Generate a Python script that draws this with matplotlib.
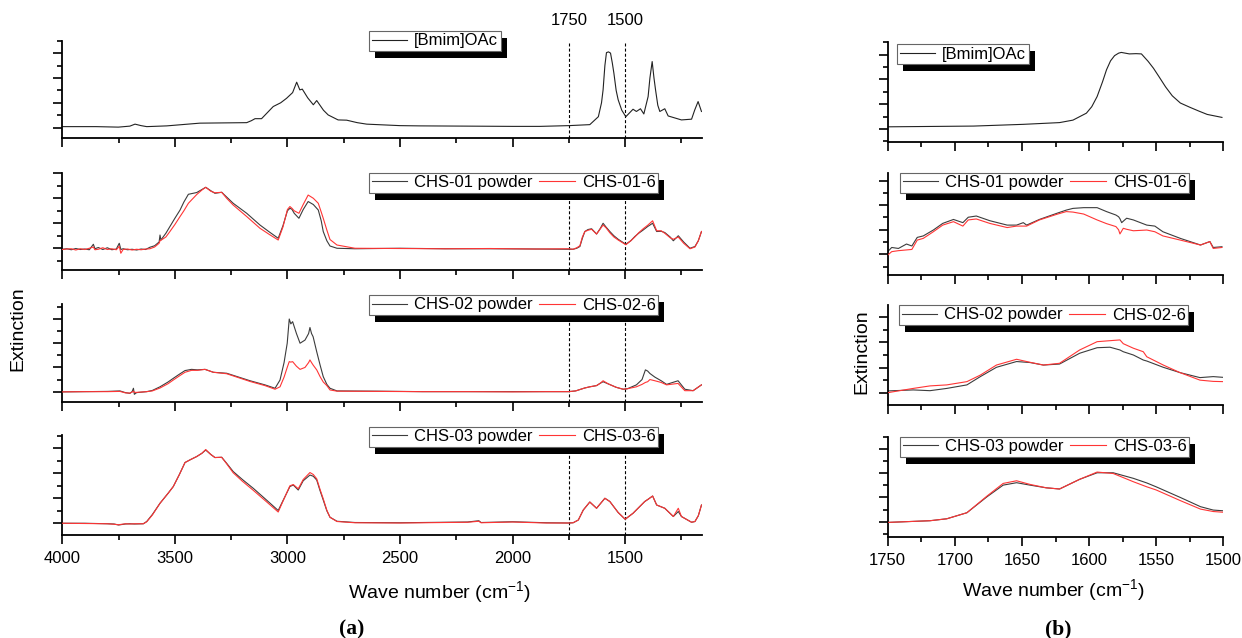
import matplotlib
matplotlib.use('Agg')
import matplotlib.pyplot as plt
from matplotlib.ticker import MultipleLocator, NullFormatter, FormatStrFormatter
from matplotlib.patches import Rectangle
from matplotlib.transforms import IdentityTransform

plt.rcParams['font.family'] = ['Liberation Sans', 'DejaVu Sans']
plt.rcParams['mathtext.fontset'] = 'custom'
plt.rcParams['mathtext.rm'] = 'Liberation Sans'
plt.rcParams['mathtext.it'] = 'Liberation Sans:italic'

# ---------------- data : panel (a), full range ----------------
bmim_wn_a = [4000, 3850, 3751, 3700, 3677, 3650, 3625, 3536, 3389, 3181, 3160, 3144, 3115, 3063, 3030,
             3004, 2977, 2959, 2945, 2934, 2910, 2885, 2870, 2840, 2819, 2775, 2737, 2690, 2648, 2500,
             2412, 2200, 2000, 1879, 1751, 1657, 1619, 1605, 1598, 1590, 1583, 1574, 1565, 1557, 1550,
             1540, 1531, 1515, 1497, 1465, 1450, 1432, 1417, 1398, 1390, 1380, 1372, 1365, 1355, 1346,
             1324, 1309, 1250, 1205, 1191, 1176, 1161]
bmim_a = [0.04, 0.04, 0.02, 0.06, 0.14, 0.08, 0.04, 0.07, 0.18, 0.20, 0.28, 0.36, 0.36, 0.85, 1.00,
          1.18, 1.41, 1.83, 1.52, 1.55, 1.20, 0.92, 1.09, 0.70, 0.51, 0.31, 0.30, 0.20, 0.14, 0.08,
          0.07, 0.06, 0.05, 0.05, 0.08, 0.12, 0.44, 1.00, 1.52, 2.50, 3.02, 3.05, 3.00, 2.60, 2.19,
          1.50, 1.12, 0.70, 0.44, 0.74, 0.65, 0.76, 0.55, 1.25, 2.00, 2.66, 2.00, 1.52, 0.90, 0.65,
          0.76, 0.47, 0.31, 0.34, 0.71, 1.05, 0.65]

chs01_wn_a = [4000, 3980, 3960, 3940, 3920, 3900, 3880, 3862, 3855, 3840, 3820, 3800, 3780, 3760, 3747,
              3740, 3730, 3710, 3690, 3670, 3650, 3630, 3611, 3590, 3570, 3566, 3562, 3540, 3522, 3500,
              3477, 3460, 3440, 3403, 3380, 3363, 3340, 3322, 3292, 3270, 3241, 3181, 3122, 3080, 3041,
              3020, 3000, 2989, 2980, 2970, 2949, 2930, 2908, 2885, 2863, 2850, 2841, 2825, 2811, 2780,
              2700, 2500, 2300, 2100, 1900, 1751, 1731, 1715, 1701, 1690, 1679, 1665, 1649, 1627, 1610,
              1598, 1585, 1568, 1550, 1531, 1497, 1475, 1457, 1440, 1420, 1400, 1378, 1360, 1340, 1324,
              1300, 1286, 1264, 1240, 1212, 1190, 1175, 1161]
chs01_powder_a = [-0.04, -0.02, -0.06, -0.01, -0.05, -0.03, -0.06, 0.16, -0.02, 0.03, -0.05, 0.02, -0.06, -0.03, 0.20,
                  -0.05, -0.02, -0.06, -0.04, -0.07, -0.03, -0.05, 0.04, 0.10, 0.25, 0.53, 0.33, 0.60, 0.87, 1.20,
                  1.53, 1.85, 2.16, 2.23, 2.35, 2.44, 2.30, 2.20, 2.24, 2.05, 1.80, 1.40, 0.93, 0.65, 0.40,
                  0.90, 1.50, 1.60, 1.56, 1.40, 1.20, 1.55, 1.87, 1.75, 1.53, 1.10, 0.67, 0.30, 0.09, 0.00,
                  -0.02, 0.00, -0.02, -0.02, -0.03, -0.04, -0.04, 0.00, 0.07, 0.40, 0.67, 0.75, 0.78, 0.57, 0.80,
                  1.00, 0.85, 0.67, 0.50, 0.36, 0.16, 0.30, 0.47, 0.60, 0.73, 0.87, 1.00, 0.67, 0.68, 0.63,
                  0.45, 0.30, 0.50, 0.25, 0.00, 0.07, 0.30, 0.67]
chs01_6_a = [-0.05, -0.03, -0.02, -0.07, -0.02, -0.05, 0.00, 0.05, -0.06, -0.04, 0.02, -0.05, -0.02, -0.06, 0.08,
             -0.20, -0.05, -0.03, -0.07, -0.04, -0.06, -0.03, -0.02, 0.05, 0.20, 0.30, 0.32, 0.45, 0.67, 0.95,
             1.27, 1.50, 1.80, 2.15, 2.33, 2.44, 2.28, 2.22, 2.24, 2.00, 1.73, 1.27, 0.80, 0.55, 0.33,
             0.85, 1.55, 1.67, 1.60, 1.50, 1.40, 1.75, 2.13, 2.00, 1.80, 1.45, 1.20, 0.73, 0.35, 0.13,
             0.00, -0.01, -0.02, -0.01, -0.03, -0.02, -0.04, 0.02, 0.10, 0.45, 0.67, 0.72, 0.76, 0.57, 0.78,
             0.93, 0.82, 0.62, 0.45, 0.33, 0.14, 0.30, 0.45, 0.62, 0.78, 0.92, 1.10, 0.70, 0.70, 0.60,
             0.42, 0.36, 0.45, 0.20, -0.02, 0.05, 0.30, 0.67]

chs02_wn_a = [4000, 3900, 3800, 3744, 3720, 3700, 3690, 3684, 3680, 3670, 3625, 3600, 3566, 3530, 3507,
              3480, 3455, 3426, 3400, 3366, 3329, 3270, 3166, 3100, 3055, 3033, 3015, 3001, 2992, 2985,
              2977, 2960, 2944, 2922, 2906, 2900, 2893, 2886, 2870, 2855, 2841, 2825, 2811, 2780, 2600,
              2400, 2200, 2000, 1850, 1751, 1720, 1680, 1657, 1627, 1610, 1598, 1575, 1540, 1509, 1490,
              1450, 1425, 1410, 1400, 1390, 1368, 1340, 1316, 1265, 1235, 1198, 1161]
chs02_powder_a = [-0.01, 0.00, 0.01, 0.03, -0.04, -0.07, 0.00, 0.14, -0.11, -0.04, 0.00, 0.05, 0.20, 0.40, 0.55,
                  0.72, 0.87, 0.92, 0.90, 0.92, 0.80, 0.76, 0.45, 0.28, 0.14, 0.48, 1.20, 2.00, 3.00, 2.80,
                  2.89, 2.40, 2.00, 2.13, 2.40, 2.65, 2.40, 2.27, 1.65, 1.10, 0.62, 0.30, 0.14, 0.03, 0.02,
                  0.00, 0.00, 0.00, 0.00, 0.00, 0.03, 0.15, 0.20, 0.25, 0.35, 0.41, 0.32, 0.18, 0.10, 0.12,
                  0.28, 0.50, 0.90, 0.85, 0.75, 0.60, 0.45, 0.30, 0.45, 0.10, 0.04, 0.28]
chs02_6_a = [-0.01, 0.00, 0.00, 0.01, -0.05, -0.06, -0.02, 0.02, -0.03, -0.03, 0.00, 0.03, 0.15, 0.33, 0.48,
             0.65, 0.80, 0.88, 0.88, 0.92, 0.80, 0.74, 0.42, 0.25, 0.10, 0.20, 0.60, 1.00, 1.24, 1.22,
             1.24, 1.05, 0.92, 1.00, 1.20, 1.31, 1.20, 1.10, 0.90, 0.62, 0.40, 0.25, 0.07, 0.02, 0.01,
             0.00, 0.00, -0.01, 0.00, 0.00, 0.03, 0.15, 0.20, 0.25, 0.35, 0.45, 0.32, 0.18, 0.10, 0.12,
             0.20, 0.30, 0.38, 0.41, 0.50, 0.45, 0.38, 0.28, 0.34, 0.04, 0.04, 0.28]

chs03_wn_a = [4000, 3900, 3800, 3770, 3750, 3720, 3700, 3680, 3640, 3625, 3600, 3566, 3530, 3507, 3480,
              3455, 3430, 3403, 3380, 3363, 3340, 3322, 3292, 3270, 3241, 3200, 3152, 3093, 3041, 3020,
              2989, 2974, 2952, 2930, 2900, 2885, 2870, 2855, 2841, 2825, 2811, 2780, 2700, 2500, 2300,
              2200, 2150, 2140, 2000, 1850, 1751, 1731, 1708, 1686, 1657, 1627, 1590, 1568, 1531, 1500,
              1465, 1413, 1398, 1378, 1360, 1324, 1286, 1264, 1250, 1205, 1190, 1175, 1161]
chs03_powder_a = [0.00, 0.00, -0.02, -0.03, -0.07, -0.03, -0.02, -0.03, -0.02, 0.07, 0.35, 0.80, 1.20, 1.47, 1.95,
                  2.43, 2.55, 2.67, 2.80, 2.93, 2.75, 2.63, 2.64, 2.40, 2.07, 1.75, 1.40, 0.93, 0.51, 0.90,
                  1.47, 1.53, 1.33, 1.70, 1.93, 1.88, 1.73, 1.30, 0.93, 0.50, 0.24, 0.08, 0.03, 0.02, 0.04,
                  0.05, 0.10, 0.03, 0.06, 0.02, 0.01, 0.02, 0.13, 0.53, 0.85, 0.60, 1.00, 0.87, 0.43, 0.16,
                  0.40, 0.87, 0.96, 1.09, 0.73, 0.60, 0.27, 0.47, 0.27, 0.04, 0.07, 0.30, 0.73]
chs03_6_a = [0.00, -0.01, -0.02, -0.04, -0.06, -0.02, -0.03, -0.02, -0.02, 0.06, 0.33, 0.80, 1.20, 1.47, 1.95,
             2.43, 2.55, 2.67, 2.80, 2.95, 2.75, 2.63, 2.64, 2.38, 2.02, 1.68, 1.32, 0.86, 0.45, 0.88,
             1.50, 1.55, 1.38, 1.75, 2.03, 1.95, 1.78, 1.35, 0.98, 0.52, 0.24, 0.07, 0.02, 0.01, 0.03,
             0.04, 0.08, 0.02, 0.05, 0.01, 0.01, 0.02, 0.13, 0.53, 0.85, 0.60, 1.00, 0.87, 0.43, 0.16,
             0.40, 0.87, 0.96, 1.09, 0.73, 0.60, 0.27, 0.60, 0.27, 0.04, 0.07, 0.30, 0.73]

# ---------------- data : panel (b), 1750-1500 ----------------
bmim_wn_b = [1750, 1686, 1649, 1622, 1612, 1602, 1598, 1594, 1590, 1587, 1584, 1581, 1578, 1576, 1570,
             1565, 1561, 1556, 1552, 1548, 1543, 1538, 1532, 1525, 1518, 1512, 1501]
bmim_b = [0.09, 0.12, 0.19, 0.26, 0.36, 0.64, 0.90, 1.31, 1.90, 2.39, 2.75, 2.96, 3.06, 3.09, 3.03,
          3.04, 3.03, 2.73, 2.45, 2.12, 1.70, 1.34, 1.05, 0.88, 0.72, 0.59, 0.47]

chs01_wn_b = [1750, 1747, 1742, 1736, 1732, 1728, 1723.5, 1716, 1709, 1701, 1694, 1690, 1684, 1674, 1661,
              1654, 1649, 1646.5, 1637, 1624, 1617, 1612, 1604, 1594, 1587, 1580, 1578, 1577, 1575.7, 1574.5,
              1572, 1567, 1557, 1551, 1545, 1532, 1517, 1510, 1507.5, 1501]
chs01_powder_b = [0.11, 0.28, 0.24, 0.42, 0.34, 0.69, 0.75, 0.99, 1.26, 1.42, 1.29, 1.51, 1.56, 1.37, 1.19,
                  1.19, 1.29, 1.19, 1.42, 1.67, 1.80, 1.87, 1.90, 1.90, 1.74, 1.60, 1.53, 1.45, 1.29, 1.35,
                  1.47, 1.40, 1.19, 1.15, 0.92, 0.65, 0.38, 0.52, 0.28, 0.31]
chs01_6_b = [-0.03, 0.11, 0.15, 0.18, 0.20, 0.58, 0.65, 0.92, 1.19, 1.33, 1.15, 1.40, 1.44, 1.26, 1.09,
             1.15, 1.15, 1.15, 1.40, 1.63, 1.74, 1.72, 1.64, 1.40, 1.25, 1.13, 1.00, 0.83, 0.95, 1.06,
             1.02, 0.96, 0.99, 0.92, 0.75, 0.58, 0.38, 0.52, 0.24, 0.28]

chs02_wn_b = [1750, 1731, 1718.5, 1706, 1691, 1681, 1669, 1654, 1644, 1634, 1622, 1607, 1594, 1584.4, 1577,
              1574.5, 1567, 1559.6, 1557, 1544.7, 1532.3, 1517.4, 1507.5, 1500]
chs02_powder_b = [0.07, 0.11, 0.08, 0.17, 0.31, 0.64, 1.01, 1.24, 1.20, 1.10, 1.14, 1.57, 1.79, 1.81, 1.70,
                  1.63, 1.50, 1.30, 1.26, 1.01, 0.80, 0.60, 0.64, 0.61]
chs02_6_b = [0.00, 0.17, 0.27, 0.31, 0.44, 0.70, 1.10, 1.33, 1.21, 1.10, 1.17, 1.70, 2.03, 2.07, 2.10,
             1.95, 1.77, 1.63, 1.43, 1.10, 0.80, 0.50, 0.45, 0.44]

chs03_wn_b = [1750, 1718.5, 1706, 1691, 1676, 1664, 1654, 1644, 1632, 1622, 1607, 1594, 1582, 1567, 1557,
              1550, 1532, 1517, 1507.5, 1500]
chs03_powder_b = [-0.03, 0.04, 0.12, 0.37, 1.03, 1.51, 1.61, 1.51, 1.40, 1.35, 1.75, 2.02, 2.02, 1.79, 1.60,
                  1.44, 1.00, 0.62, 0.48, 0.45]
chs03_6_b = [-0.03, 0.04, 0.12, 0.37, 1.06, 1.58, 1.69, 1.54, 1.40, 1.35, 1.75, 2.05, 1.99, 1.65, 1.44,
             1.31, 0.87, 0.52, 0.42, 0.39]

marker_lines = [1750, 1500]
bmim_label = '[Bmim]OAc'
powder_labels = ['CHS-01 powder', 'CHS-02 powder', 'CHS-03 powder']
soln_labels = ['CHS-01-6', 'CHS-02-6', 'CHS-03-6']

# ---------------- figure ----------------
W, H = 1242, 638
fig = plt.figure(figsize=(W / 100, H / 100), dpi=100)

BLACK = '#3c3c3c'
RED = '#ff3535'
LW = 0.8


def add_ax(x0, y0, x1, y1):
    return fig.add_axes([x0 / W, 1 - y1 / H, (x1 - x0) / W, (y1 - y0) / H])


def style(ax, xmaj, xmin, show_xlabels):
    for s in ['top', 'right']:
        ax.spines[s].set_visible(False)
    for s in ['left', 'bottom']:
        ax.spines[s].set_linewidth(1.3)
    ax.xaxis.set_major_locator(MultipleLocator(xmaj))
    ax.xaxis.set_minor_locator(MultipleLocator(xmin))
    ax.yaxis.set_major_locator(MultipleLocator(1.0))
    ax.yaxis.set_minor_locator(MultipleLocator(0.5))
    ax.tick_params(which='major', direction='out', length=6.5, width=1.2, labelsize=12, pad=5)
    ax.tick_params(which='minor', direction='out', length=3.5, width=1.2)
    ax.yaxis.set_major_formatter(NullFormatter())
    if show_xlabels:
        ax.xaxis.set_major_formatter(FormatStrFormatter('%d'))
    else:
        ax.xaxis.set_major_formatter(NullFormatter())


legends = []


def add_legend(ax, handles, labels, x, y):
    leg = ax.legend(handles, labels, loc='upper left', bbox_to_anchor=(x / W, 1 - y / H),
                    bbox_transform=fig.transFigure, ncol=len(handles), fontsize=12,
                    frameon=True, fancybox=False, shadow=False, borderpad=0.15,
                    handlelength=2.15, handletextpad=0.4, columnspacing=0.4, borderaxespad=0)
    fr = leg.get_frame()
    fr.set_edgecolor('#666666')
    fr.set_linewidth(0.8)
    fr.set_alpha(1)
    legends.append((ax, leg))


# ---- panel (a) ----
left_rows = [(40.7, 138.3, (-0.43, 3.5)), (173.3, 270.0, (-0.87, 3.0)),
             (304.0, 402.3, (-0.44, 3.62)), (435.3, 535.0, (-0.47, 3.52))]
leg_a = [(369, 31), (369, 172.5), (369, 295), (369, 426.7)]
series_a = [
    (bmim_wn_a, bmim_a, None, None),
    (chs01_wn_a, chs01_powder_a, chs01_wn_a, chs01_6_a),
    (chs02_wn_a, chs02_powder_a, chs02_wn_a, chs02_6_a),
    (chs03_wn_a, chs03_powder_a, chs03_wn_a, chs03_6_a),
]
axes_a = []
for i, ((t, b, yl), (wk, vk, wr, vr)) in enumerate(zip(left_rows, series_a)):
    ax = add_ax(62.3, t, 701.7, b)
    style(ax, 500, 250, i == 3)
    ax.set_xlim(4000, 1160)
    ax.set_ylim(*yl)
    for m in marker_lines:
        ax.axvline(m, color='black', lw=0.8, dashes=(2.7, 1.9), zorder=1)
    if wr is None:
        h1, = ax.plot(wk, vk, color='#222222', lw=LW, zorder=2)
        add_legend(ax, [h1], [bmim_label], *leg_a[i])
    else:
        h1, = ax.plot(wk, vk, color=BLACK, lw=LW, zorder=2)
        h2, = ax.plot(wr, vr, color=RED, lw=LW, zorder=3)
        add_legend(ax, [h1, h2], [powder_labels[i - 1], soln_labels[i - 1]], *leg_a[i])
    axes_a.append(ax)

for m in marker_lines:
    axes_a[0].text(m, 1.21, str(m), transform=axes_a[0].get_xaxis_transform(),
                   ha='center', va='center', fontsize=12)

# ---- panel (b) ----
right_rows = [(42.0, 141.7, (-0.51, 3.51)), (173.0, 275.0, (-0.84, 3.31)),
              (305.0, 405.0, (-0.49, 3.49)), (436.7, 536.7, (-0.62, 3.51))]
leg_b = [(897, 44), (900, 172.7), (899, 305), (900, 436.7)]
series_b = [
    (bmim_wn_b, bmim_b, None, None),
    (chs01_wn_b, chs01_powder_b, chs01_wn_b, chs01_6_b),
    (chs02_wn_b, chs02_powder_b, chs02_wn_b, chs02_6_b),
    (chs03_wn_b, chs03_powder_b, chs03_wn_b, chs03_6_b),
]
for i, ((t, b, yl), (wk, vk, wr, vr)) in enumerate(zip(right_rows, series_b)):
    ax = add_ax(887.7, t, 1223.3, b)
    style(ax, 50, 25, i == 3)
    ax.set_xlim(1750, 1500)
    ax.set_ylim(*yl)
    if wr is None:
        h1, = ax.plot(wk, vk, color='#222222', lw=LW, zorder=2)
        add_legend(ax, [h1], [bmim_label], *leg_b[i])
    else:
        h1, = ax.plot(wk, vk, color=BLACK, lw=LW, zorder=2)
        h2, = ax.plot(wr, vr, color=RED, lw=LW, zorder=3)
        add_legend(ax, [h1, h2], [powder_labels[i - 1], soln_labels[i - 1]], *leg_b[i])

# axis titles
fig.text(18 / W, 1 - 329 / H, 'Extinction', rotation=90, ha='center', va='center', fontsize=14)
fig.text(862 / W, 1 - 352 / H, 'Extinction', rotation=90, ha='center', va='center', fontsize=14)
fig.text(439 / W, 1 - 592 / H, r'Wave number (cm$^{-1}$)', ha='center', va='center', fontsize=14)
fig.text(1053 / W, 1 - 590 / H, r'Wave number (cm$^{-1}$)', ha='center', va='center', fontsize=14)
fig.text(352 / W, 1 - 629 / H, '(a)', ha='center', va='center', fontsize=15.5,
         family=['Liberation Serif', 'DejaVu Serif'], weight='bold')
fig.text(1058 / W, 1 - 629 / H, '(b)', ha='center', va='center', fontsize=15.5,
         family=['Liberation Serif', 'DejaVu Serif'], weight='bold')

# legend shadows (black block offset down-right, below the legend box)
fig.canvas.draw()
renderer = fig.canvas.get_renderer()
for ax, leg in legends:
    bb = leg.get_frame().get_window_extent(renderer)
    rect = Rectangle((bb.x0 + 6, bb.y0 - 7), bb.width, bb.height, transform=IdentityTransform(),
                     facecolor='black', edgecolor='none', zorder=4.5, clip_on=False)
    ax.add_artist(rect)

fig.savefig('out.png', dpi=100)
